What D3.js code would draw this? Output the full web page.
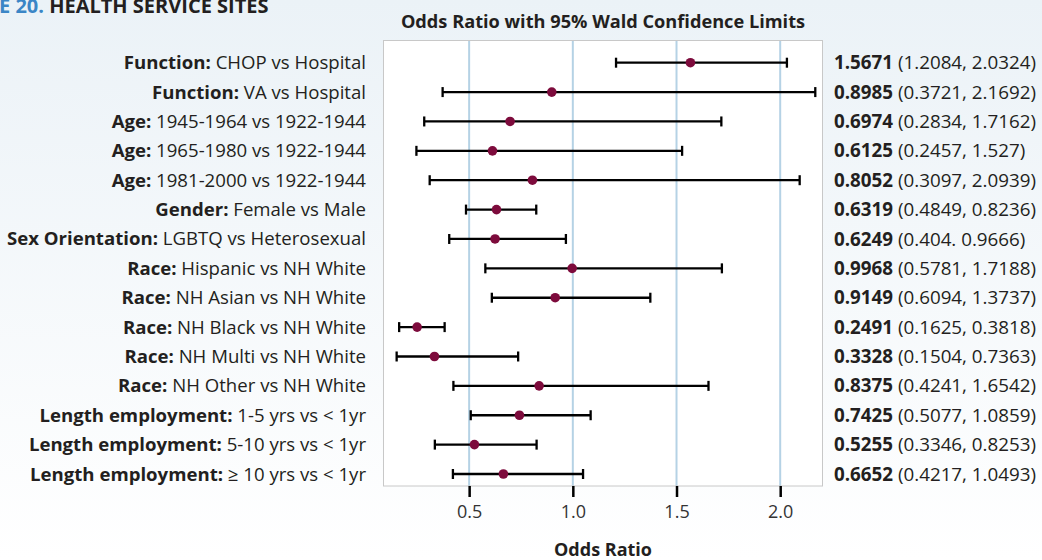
<!DOCTYPE html>
<html><head><meta charset="utf-8">
<script src="https://cdn.jsdelivr.net/npm/d3@7"></script>
<style>
html,body{margin:0;padding:0;}
body{width:1042px;height:560px;overflow:hidden;}
svg{display:block;}
</style></head>
<body>
<svg id="chart" width="1042" height="560"></svg>
<script>
const groups = ["Function:","Function:","Age:","Age:","Age:","Gender:","Sex Orientation:","Race:","Race:","Race:","Race:","Race:","Length employment:","Length employment:","Length employment:"];
const comparisons = ["CHOP vs Hospital","VA vs Hospital","1945-1964 vs 1922-1944","1965-1980 vs 1922-1944","1981-2000 vs 1922-1944","Female vs Male","LGBTQ vs Heterosexual","Hispanic vs NH White","NH Asian vs NH White","NH Black vs NH White","NH Multi vs NH White","NH Other vs NH White","1-5 yrs vs < 1yr","5-10 yrs vs < 1yr","\u2265 10 yrs vs < 1yr"];
const oddsRatio = [1.5671,0.8985,0.6974,0.6125,0.8052,0.6319,0.6249,0.9968,0.9149,0.2491,0.3328,0.8375,0.7425,0.5255,0.6652];
const lowerCL = [1.2084,0.3721,0.2834,0.2457,0.3097,0.4849,0.404,0.5781,0.6094,0.1625,0.1504,0.4241,0.5077,0.3346,0.4217];
const upperCL = [2.0324,2.1692,1.7162,1.527,2.0939,0.8236,0.9666,1.7188,1.3737,0.3818,0.7363,1.6542,1.0859,0.8253,1.0493];
const orLabels = ["1.5671","0.8985","0.6974","0.6125","0.8052","0.6319","0.6249","0.9968","0.9149","0.2491","0.3328","0.8375","0.7425","0.5255","0.6652"];
const ciLabels = ["(1.2084, 2.0324)","(0.3721, 2.1692)","(0.2834, 1.7162)","(0.2457, 1.527)","(0.3097, 2.0939)","(0.4849, 0.8236)","(0.404. 0.9666)","(0.5781, 1.7188)","(0.6094, 1.3737)","(0.1625, 0.3818)","(0.1504, 0.7363)","(0.4241, 1.6542)","(0.5077, 1.0859)","(0.3346, 0.8253)","(0.4217, 1.0493)"];
const xTicks = [0.5,1.0,1.5,2.0];
const xDomain = [0.087, 2.204];

const FONT = "'Open Sans', Lato, sans-serif";
const svg = d3.select("#chart");
const defs = svg.append("defs");
const grad = defs.append("linearGradient").attr("id","bg").attr("x1",0).attr("y1",0).attr("x2",0).attr("y2",1);
grad.append("stop").attr("offset","0%").attr("stop-color","#ebf2f7");
grad.append("stop").attr("offset","100%").attr("stop-color","#ffffff");
svg.append("rect").attr("width",1042).attr("height",560).attr("fill","url(#bg)");

const frame = {left:383.5, right:822.5, top:40.5, bottom:486};
const x = d3.scaleLinear().domain(xDomain).range([frame.left, frame.right]);
const rows = d3.range(groups.length);
const y = d3.scalePoint().domain(rows).range([62.7, 474]);

// heading
svg.append("text").attr("x",-1).attr("y",12.5).attr("font-family",FONT).attr("font-weight","bold")
  .attr("font-size",20).attr("fill","#231f20")
  .call(t=>{t.append("tspan").attr("fill","#3b86c6").text("E 20. "); t.append("tspan").text("HEALTH SERVICE SITES");});

svg.append("text").attr("x",(frame.left+frame.right)/2).attr("y",28).attr("text-anchor","middle")
  .attr("font-family",FONT).attr("font-weight","bold").attr("font-size",18.2).attr("fill","#231f20")
  .text("Odds Ratio with 95% Wald Confidence Limits");

// plot bg
svg.append("rect").attr("x",frame.left).attr("y",frame.top).attr("width",frame.right-frame.left)
  .attr("height",frame.bottom-frame.top).attr("fill","#ffffff");

// gridlines
svg.append("g").selectAll("line").data(xTicks).join("line")
  .attr("x1",d=>x(d)).attr("x2",d=>x(d)).attr("y1",frame.top).attr("y2",frame.bottom)
  .attr("stroke","#b5d2e5").attr("stroke-width",2);

svg.append("rect").attr("x",frame.left).attr("y",frame.top).attr("width",frame.right-frame.left)
  .attr("height",frame.bottom-frame.top).attr("fill","none").attr("stroke","#c8c8c8").attr("stroke-width",1);

// axis
const axis = d3.axisBottom(x).tickValues(xTicks).tickFormat(d3.format(".1f")).tickSize(11).tickPadding(8);
const ax = svg.append("g").attr("transform",`translate(0,${frame.bottom})`).call(axis);
ax.select(".domain").remove();
ax.selectAll(".tick line").attr("stroke","#000").attr("stroke-width",2.5);
ax.selectAll(".tick text").attr("font-family",FONT).attr("font-size",18).attr("fill","#333");

svg.append("text").attr("x",(frame.left+frame.right)/2).attr("y",556).attr("text-anchor","middle")
  .attr("font-family",FONT).attr("font-weight","bold").attr("font-size",18).attr("fill","#231f20")
  .text("Odds Ratio");

// error bars
const g = svg.append("g");
const capH = 5;
rows.forEach(i=>{
  const yy = y(i);
  g.append("line").attr("x1",x(lowerCL[i])).attr("x2",x(upperCL[i])).attr("y1",yy).attr("y2",yy)
    .attr("stroke","#000").attr("stroke-width",2.3);
  [lowerCL[i],upperCL[i]].forEach(v=>{
    g.append("line").attr("x1",x(v)).attr("x2",x(v)).attr("y1",yy-capH).attr("y2",yy+capH)
      .attr("stroke","#000").attr("stroke-width",2.3);
  });
});
g.selectAll("circle").data(rows).join("circle")
  .attr("cx",i=>x(oddsRatio[i])).attr("cy",i=>y(i)).attr("r",4.8).attr("fill","#7d0b3c");

// left labels
svg.append("g").selectAll("text").data(rows).join("text")
  .attr("x",366).attr("y",i=>y(i)).attr("dy","0.35em").attr("text-anchor","end")
  .attr("font-family",FONT).attr("font-size",18.6).attr("fill","#231f20")
  .each(function(i){
    const t = d3.select(this);
    t.append("tspan").attr("font-weight","bold").text(groups[i]+" ");
    t.append("tspan").text(comparisons[i]);
  });

// right labels
svg.append("g").selectAll("text").data(rows).join("text")
  .attr("x",834).attr("y",i=>y(i)).attr("dy","0.35em").attr("text-anchor","start")
  .attr("font-family",FONT).attr("font-size",18.8).attr("fill","#231f20")
  .each(function(i){
    const t = d3.select(this);
    t.append("tspan").attr("font-weight","bold").text(orLabels[i]+" ");
    t.append("tspan").text(ciLabels[i]);
  });
</script>
</body></html>
